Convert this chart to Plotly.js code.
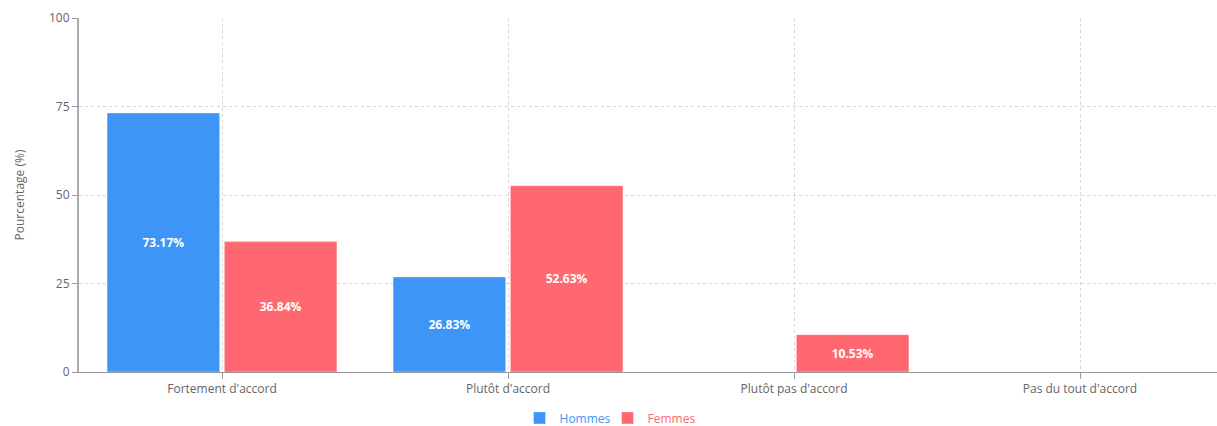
<!DOCTYPE html>
<html>
<head>
<meta charset="utf-8">
<script src="https://cdn.plot.ly/plotly-3.0.1.min.js"></script>
<style>
html,body{margin:0;padding:0;overflow:hidden;background:#fff;}
#chart{width:1223px;height:426px;}
</style>
</head>
<body>
<div id="chart"></div>
<script>
var categories = ["Fortement d'accord", "Plutôt d'accord", "Plutôt pas d'accord", "Pas du tout d'accord"];
var hommes = [73.17, 26.83, 0, 0];
var femmes = [36.84, 52.63, 10.53, 0];
var yTicks = [0, 25, 50, 75, 100];

var blue = '#3e95f8';
var red = '#ff6870';

function labels(arr){ return arr.map(function(v){ return v > 0 ? v.toFixed(2) + '%' : ''; }); }

var font = '"Open Sans", "Noto Sans", sans-serif';

var traces = [
  {
    type: 'bar', x: categories, y: hommes,
    name: '<span style="color:' + blue + '">Hommes</span>',
    marker: {color: blue, line: {color: 'rgba(255,255,255,0.35)', width: 1}},
    text: labels(hommes), textposition: 'inside', insidetextanchor: 'middle',
    textfont: {color: '#ffffff', size: 12, family: font, weight: 'bold'},
    hoverinfo: 'none'
  },
  {
    type: 'bar', x: categories, y: femmes,
    name: '<span style="color:' + red + '">Femmes</span>',
    marker: {color: red, line: {color: 'rgba(255,255,255,0.35)', width: 1}},
    text: labels(femmes), textposition: 'inside', insidetextanchor: 'middle',
    textfont: {color: '#ffffff', size: 12, family: font, weight: 'bold'},
    hoverinfo: 'none'
  }
];

var layout = {
  width: 1223, height: 426,
  margin: {l: 79, r: 0, t: 18, b: 54},
  paper_bgcolor: '#fff', plot_bgcolor: '#fff',
  font: {family: font, size: 12, color: '#666'},
  barmode: 'group', bargap: 0.18, bargroupgap: 0.04,
  showlegend: true,
  legend: {
    orientation: 'h', x: 0.462, xanchor: 'center',
    yref: 'container', y: 0.019, yanchor: 'middle',
    itemwidth: 30, tracegroupgap: 0,
    entrywidth: 43, entrywidthmode: 'pixels',
    font: {size: 12, family: font}, itemclick: false, itemdoubleclick: false,
    traceorder: 'normal'
  },
  xaxis: {
    type: 'category', categoryorder: 'array', categoryarray: categories,
    automargin: false,
    showgrid: true, gridcolor: '#d6d6d6', griddash: '3px,3px', gridwidth: 1,
    showline: true, linecolor: '#999', linewidth: 1,
    ticks: 'outside', ticklen: 6, tickcolor: '#999',
    tickfont: {size: 12, color: '#666'}, zeroline: false, fixedrange: true
  },
  yaxis: {
    range: [0, 100], tickvals: yTicks, ticktext: yTicks.map(String),
    automargin: false,
    showgrid: true, gridcolor: '#d6d6d6', griddash: '3px,3px', gridwidth: 1,
    showline: true, linecolor: '#aaa', linewidth: 2,
    ticks: 'outside', ticklen: 5, tickcolor: '#999',
    tickfont: {size: 12, color: '#666'}, zeroline: false, fixedrange: true,
    title: {text: 'Pourcentage (%)', font: {size: 12, color: '#666'}, standoff: 22}
  }
};

Plotly.newPlot('chart', traces, layout, {displayModeBar: false, staticPlot: true});
</script>
</body>
</html>
